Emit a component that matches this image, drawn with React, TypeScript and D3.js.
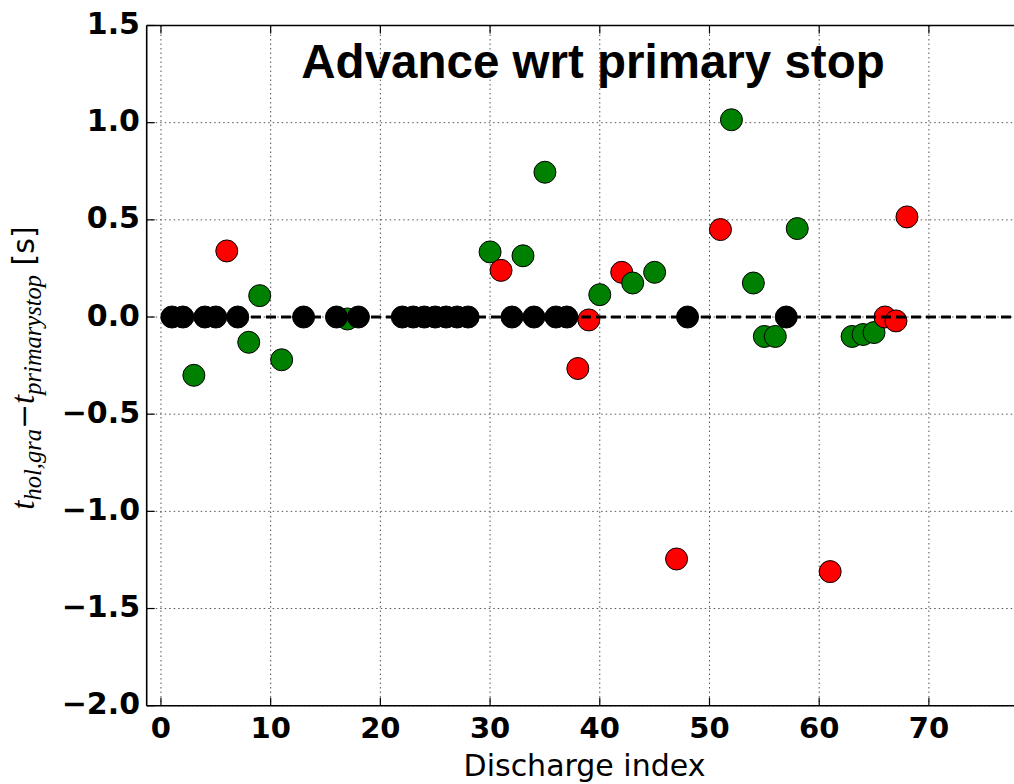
import React from "react";
import * as d3 from "d3";

const blackIdx = [1, 2, 4, 5, 7, 13, 16, 18, 22, 23, 24, 25, 26, 27, 28, 32, 34, 36, 37, 48, 57];
const colIdx = [3, 6, 8, 9, 11, 17, 30, 31, 33, 35, 38, 39, 40, 42, 43, 45, 47, 51, 52, 54, 55, 56, 58, 61, 63, 64, 65, 66, 67, 68];
const colVal = [-0.30, 0.34, -0.13, 0.11, -0.22, -0.01, 0.335, 0.24, 0.315, 0.745, -0.265, -0.015, 0.115, 0.23, 0.175, 0.23, -1.245, 0.45, 1.015, 0.175, -0.10, -0.10, 0.455, -1.31, -0.10, -0.09, -0.08, 0.0, -0.02, 0.515];
const colCat = ["g", "r", "g", "g", "g", "g", "g", "r", "g", "g", "r", "r", "g", "r", "g", "g", "r", "r", "g", "g", "g", "g", "g", "r", "g", "g", "g", "r", "r", "r"];
const xTicks = [0, 10, 20, 30, 40, 50, 60, 70];
const xGrid = [0, 10, 20, 30, 40, 50, 60, 70, 80];
const yTicks = [-2.0, -1.5, -1.0, -0.5, 0.0, 0.5, 1.0, 1.5];

const W = 1014, H = 784;
const L = 146.7, R = 1038.6, T = 25.5, B = 705.7;

export default function App() {
  const x = d3.scaleLinear().domain([-1.3, 80]).range([L, R]);
  const y = d3.scaleLinear().domain([-2, 1.5]).range([B, T]);
  const colorOf = (c: string) => (c === "r" ? "#ff0000" : "#008000");
  const fmt = (v: number) => (v < 0 ? "\u2212" : "") + Math.abs(v).toFixed(1);
  const tickFont = "'DejaVu Sans', sans-serif";
  const serif = "'Liberation Serif', serif";
  const rr = 11;
  return (
    <svg width={W} height={H} style={{ position: "absolute", left: 0, top: 0, background: "#fff" }}>
      <defs>
        <clipPath id="plot">
          <rect x={L} y={T} width={R - L} height={B - T} />
        </clipPath>
      </defs>
      {/* grid */}
      <g stroke="#555" strokeWidth={1} strokeDasharray="1.5,3">
        {xGrid.map((t) => (
          <line key={"gx" + t} x1={x(t)} x2={x(t)} y1={T} y2={B} />
        ))}
        {yTicks.map((t) => (
          <line key={"gy" + t} x1={L} x2={R} y1={y(t)} y2={y(t)} />
        ))}
      </g>
      {/* ticks (inside) */}
      <g stroke="#000" strokeWidth={1.2}>
        {xGrid.map((t) => (
          <g key={"tx" + t}>
            <line x1={x(t)} x2={x(t)} y1={B} y2={B - 8} />
            <line x1={x(t)} x2={x(t)} y1={T} y2={T + 8} />
          </g>
        ))}
        {yTicks.map((t) => (
          <line key={"ty" + t} x1={L} x2={L + 8} y1={y(t)} y2={y(t)} />
        ))}
      </g>
      <g clipPath="url(#plot)">
        {colIdx.map((d, i) => (
          <circle key={"c" + i} cx={x(d)} cy={y(colVal[i])} r={rr} fill={colorOf(colCat[i])} stroke="#000" strokeWidth={1} />
        ))}
        <line x1={x(0)} x2={R} y1={y(0)} y2={y(0)} stroke="#000" strokeWidth={3} strokeDasharray="10,5" />
        {blackIdx.map((d, i) => (
          <circle key={"b" + i} cx={x(d)} cy={y(0)} r={rr} fill="#000" stroke="#000" strokeWidth={1} />
        ))}
      </g>
      {/* spines */}
      <g stroke="#000" strokeWidth={1.6} fill="none">
        <line x1={L} x2={L} y1={T} y2={B} />
        <line x1={L} x2={R} y1={T} y2={T} />
        <line x1={L} x2={R} y1={B} y2={B} />
      </g>
      {/* tick labels */}
      <g fontFamily={tickFont} fontWeight="bold" fill="#000">
        {yTicks.map((t) => (
          <text key={"ly" + t} x={140} y={y(t) + 8.5} textAnchor="end" fontSize={30}>
            {fmt(t)}
          </text>
        ))}
        {xTicks.map((t) => (
          <text key={"lx" + t} x={x(t)} y={738.3} textAnchor="middle" fontSize={29}>
            {String(t)}
          </text>
        ))}
      </g>
      <text x={584.5} y={776} textAnchor="middle" fontFamily={tickFont} fontSize={30} fill="#000">
        Discharge index
      </text>
      <text x={593} y={78} textAnchor="middle" fontFamily="'Liberation Sans', Arial, sans-serif" fontWeight="bold" fontSize={47.5} fill="#000">
        Advance wrt primary stop
      </text>
      <text transform="translate(34,368) rotate(-90)" textAnchor="middle" fill="#000">
        <tspan fontFamily={serif} fontStyle="italic" fontSize={33}>t</tspan>
        <tspan fontFamily={serif} fontStyle="italic" fontSize={24.5} dy={7}>hol,gra</tspan>
        <tspan fontFamily="'DejaVu Serif', serif" fontSize={30} dy={-7}>{"\u2212"}</tspan>
        <tspan fontFamily={serif} fontStyle="italic" fontSize={33}>t</tspan>
        <tspan fontFamily={serif} fontStyle="italic" fontSize={24.5} dy={7}>primarystop</tspan>
        <tspan fontFamily={tickFont} fontSize={30} dy={-7}>{" [s]"}</tspan>
      </text>
    </svg>
  );
}
